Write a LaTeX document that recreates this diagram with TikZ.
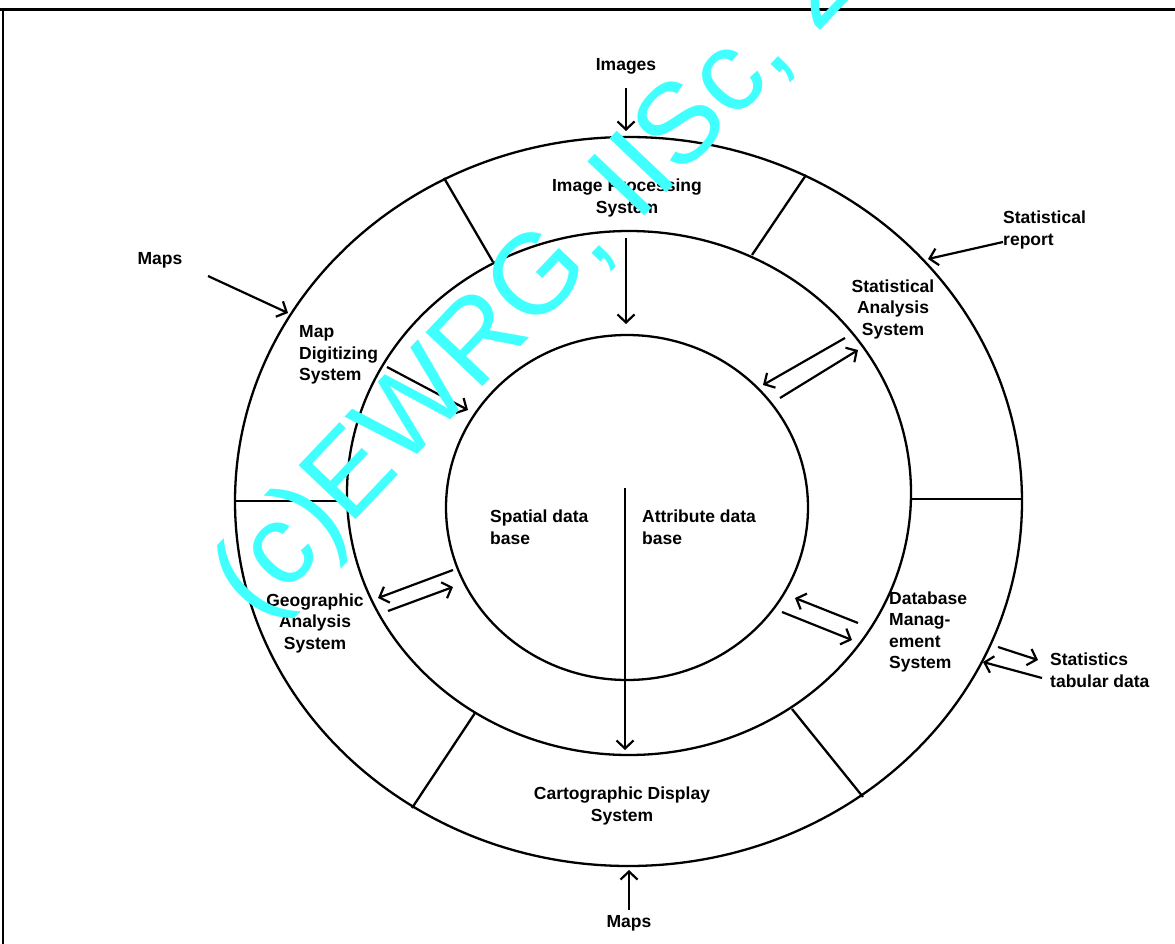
\documentclass[tikz,border=0pt]{standalone}
\usepackage{fontspec}
\setmainfont{Liberation Sans}
\usetikzlibrary{arrows.meta,shapes.geometric}

\definecolor{wmcyan}{RGB}{64,255,255}

\begin{document}
\begin{tikzpicture}[x=1pt,y=-1pt,>={Straight Barb[length=8pt,width=17pt]},
    ring/.style={ellipse,draw,line width=2.3pt,inner sep=0pt},
    part/.style={line width=2.3pt},
    flow/.style={->,line width=2.2pt},
    lbl/.style={font=\fontsize{17.5}{21.5}\selectfont\bfseries,align=center,inner sep=0pt},
    lbll/.style={lbl,align=left,anchor=west}]
    \useasboundingbox (0,0) rectangle (1175,944);
    \clip (0,0) rectangle (1175,944);
    % frame
    \draw[line width=3pt] (0,10) -- (1175,10);
    \draw[line width=1.5pt] (3,10) -- (3,944);

    % the three rings
    \node[ring,minimum width=787pt,minimum height=729pt] (outer)  at (628.5,501.5) {};
    \node[ring,minimum width=564pt,minimum height=524pt] (middle) at (629,493) {};
    \node[ring,minimum width=362pt,minimum height=345pt] (inner)  at (627,507.5) {};

    % partitions of the outer ring
    \foreach \p/\q in {{(444,178)}/{(493,262)}, {(806,175)}/{(752,255)},
                       {(235,501)}/{(346,501)}, {(911,499)}/{(1022,499)},
                       {(475,713)}/{(412,808)}, {(792,709)}/{(863,797)}}
        \draw[part] \p -- \q;

    % labels
    \node[lbl]  (images) at (626,66)   {Images};
    \node[lbl]  (ips)    at (627,198)  {Image Processing\\System};
    \node[lbl]  (sas)    at (893,309)  {Statistical\\Analysis\\System};
    \node[lbll] (srep)   at (1003,230) {Statistical\\report};
    \node[lbl]  (mapsl)  at (160,260)  {Maps};
    \node[lbll] (mds)    at (299,355)  {Map\\Digitizing\\System};
    \node[lbll] (sdb)    at (490,527)  {Spatial data\\base};
    \node[lbll] (adb)    at (642,527)  {Attribute data\\base};
    \node[lbl]  (gas)    at (315,623)  {Geographic\\Analysis\\System};
    \node[lbll] (dbms)   at (889,632)  {Database\\Manag-\\ement\\System};
    \node[lbll] (stab)   at (1050,670) {Statistics\\tabular data};
    \node[lbl]  (cds)    at (622,806)  {Cartographic Display\\System};
    \node[lbl]  (mapsb)  at (629,923)  {Maps};

    % arrow ends
    \coordinate (img1) at (626,88);   \coordinate (img2) at (626,131);
    \coordinate (ip1)  at (626,238);  \coordinate (ip2)  at (626,324);
    \coordinate (mp1)  at (208,276);  \coordinate (mp2)  at (288,313);
    \coordinate (md1)  at (387,367);  \coordinate (md2)  at (468,410);
    \coordinate (sr1)  at (1003,242); \coordinate (sr2)  at (928,259);
    \coordinate (sa1)  at (845,338);  \coordinate (sa2)  at (763,385);
    \coordinate (sa3)  at (780,398);  \coordinate (sa4)  at (858,350);
    \coordinate (ga1)  at (453,570);  \coordinate (ga2)  at (378,598);
    \coordinate (ga3)  at (388,611);  \coordinate (ga4)  at (453,587);
    \coordinate (db1)  at (858,623);  \coordinate (db2)  at (795,598);
    \coordinate (db3)  at (782,612);  \coordinate (db4)  at (852,640);
    \coordinate (st1)  at (998,647);  \coordinate (st2)  at (1038,660);
    \coordinate (st3)  at (1042,678); \coordinate (st4)  at (983,662);
    \coordinate (dv1)  at (625,488);  \coordinate (dv2)  at (625,750);
    \coordinate (mb1)  at (629,910);  \coordinate (mb2)  at (629,870);

    \draw[flow] (img1) -- (img2);
    \draw[flow] (ip1) -- (ip2);
    \draw[flow] (mp1) -- (mp2);
    \draw[flow] (md1) -- (md2);
    \draw[flow] (sr1) -- (sr2);
    \draw[flow] (sa1) -- (sa2);
    \draw[flow] (sa3) -- (sa4);
    \draw[flow] (ga1) -- (ga2);
    \draw[flow] (ga3) -- (ga4);
    \draw[flow] (db1) -- (db2);
    \draw[flow] (db3) -- (db4);
    \draw[flow] (st1) -- (st2);
    \draw[flow] (st3) -- (st4);
    \draw[flow] (dv1) -- (dv2);
    \draw[flow] (mb1) -- (mb2);

    % watermark
    \node[text=wmcyan,font=\fontsize{114}{114}\selectfont,rotate=46.5,
          anchor=base west,inner sep=0pt] (wmark) at (258,623) {(c)EWRG, IISc, 2};
\end{tikzpicture}
\end{document}
